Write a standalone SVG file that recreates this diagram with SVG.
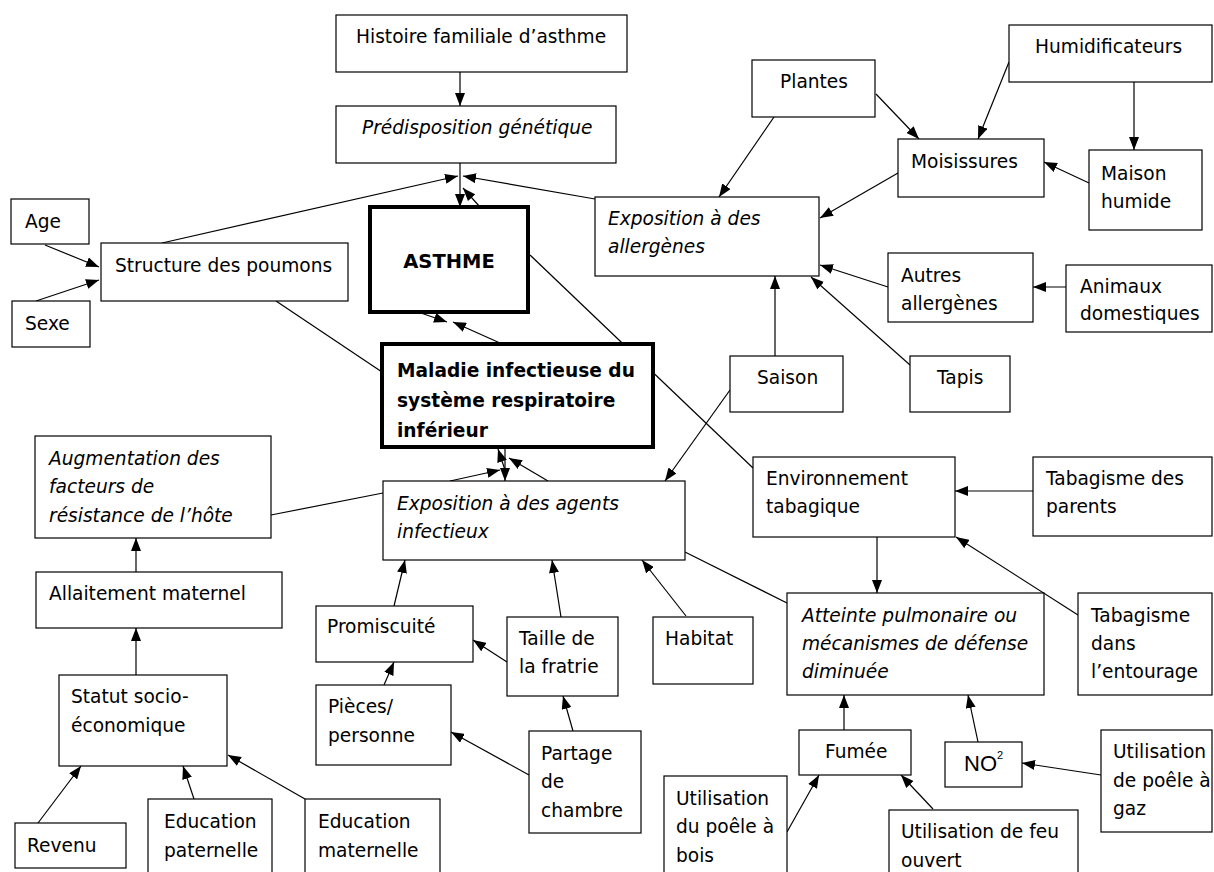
<svg xmlns="http://www.w3.org/2000/svg" width="1214" height="872" viewBox="0 0 1214 872">
<style>
  .box{fill:#fff;stroke:#000;stroke-width:1.2}
  .bold{fill:#fff;stroke:#000;stroke-width:4}
  text{font-family:"DejaVu Sans",sans-serif;font-size:18.6px;fill:#000}
  .it{font-style:italic}
  .b{font-weight:bold}
  .c line{stroke:#000;stroke-width:1.2;fill:none}
  .a{marker-end:url(#ah)}
</style>
<defs>
  <marker id="ah" markerUnits="userSpaceOnUse" markerWidth="13" markerHeight="10" refX="13" refY="5" orient="auto">
    <path d="M0,0 L13,5 L0,10 z" fill="#000"/>
  </marker>
</defs>
<rect width="1214" height="872" fill="#fff"/>

<g class="c" id="connectors">
  <line class="a" x1="460" y1="72" x2="460" y2="106"/>
  <line class="a" x1="460" y1="163" x2="460" y2="207"/>
  <line class="a" x1="162" y1="243" x2="458" y2="176"/>
  <line class="a" x1="595" y1="199" x2="463" y2="176"/>
  <line class="a" x1="480" y1="207" x2="463" y2="188"/>
  <line class="a" x1="45" y1="245" x2="99" y2="267"/>
  <line class="a" x1="36" y1="301" x2="99" y2="280"/>
  <line x1="530" y1="255" x2="753" y2="468"/>
  <line x1="276" y1="301" x2="382" y2="372"/>
  <line class="a" x1="418" y1="312" x2="447" y2="322"/>
  <line class="a" x1="500" y1="343" x2="453" y2="322"/>
  <line class="a" x1="450" y1="481" x2="500" y2="470"/>
  <line class="a" x1="548" y1="481" x2="509" y2="458"/>
  <line class="a" x1="505" y1="449" x2="505" y2="481"/>
  <line class="a" x1="505" y1="470" x2="498" y2="449"/>
  <line class="a" x1="774" y1="117" x2="719" y2="197"/>
  <line class="a" x1="876" y1="94" x2="919" y2="139"/>
  <line class="a" x1="1009" y1="62" x2="978" y2="139"/>
  <line class="a" x1="1134" y1="82" x2="1134" y2="150"/>
  <line class="a" x1="1089" y1="183" x2="1044" y2="162"/>
  <line class="a" x1="898" y1="173" x2="820" y2="218"/>
  <line class="a" x1="888" y1="287" x2="820" y2="265"/>
  <line class="a" x1="1066" y1="287" x2="1033" y2="287"/>
  <line class="a" x1="910" y1="365" x2="811" y2="277"/>
  <line class="a" x1="775" y1="356" x2="775" y2="276"/>
  <line class="a" x1="730" y1="390" x2="665" y2="481"/>
  <line class="a" x1="1033" y1="491" x2="955" y2="491"/>
  <line class="a" x1="877" y1="537" x2="877" y2="593"/>
  <line class="a" x1="1078" y1="615" x2="956" y2="537"/>
  <line x1="685" y1="552" x2="787" y2="603"/>
  <line x1="271" y1="515" x2="383" y2="493"/>
  <line class="a" x1="136" y1="572" x2="136" y2="538"/>
  <line class="a" x1="136" y1="675" x2="136" y2="628"/>
  <line class="a" x1="38" y1="823" x2="81" y2="766"/>
  <line class="a" x1="194" y1="799" x2="183" y2="766"/>
  <line class="a" x1="305" y1="799" x2="228" y2="755"/>
  <line class="a" x1="394" y1="606" x2="405" y2="560"/>
  <line class="a" x1="561" y1="617" x2="552" y2="560"/>
  <line class="a" x1="507" y1="662" x2="473" y2="640"/>
  <line class="a" x1="384" y1="685" x2="394" y2="662"/>
  <line class="a" x1="573" y1="731" x2="563" y2="696"/>
  <line class="a" x1="529" y1="775" x2="451" y2="732"/>
  <line class="a" x1="686" y1="616" x2="642" y2="560"/>
  <line class="a" x1="844" y1="730" x2="844" y2="695"/>
  <line class="a" x1="978" y1="742" x2="968" y2="695"/>
  <line class="a" x1="1101" y1="775" x2="1022" y2="763"/>
  <line class="a" x1="787" y1="832" x2="819" y2="775"/>
  <line class="a" x1="933" y1="809" x2="901" y2="775"/>
</g>

<g id="histoire"><rect class="box" x="336" y="15" width="291" height="57"/><text x="356" y="43">Histoire familiale d’asthme</text></g>
<g id="predisposition"><rect class="box" x="336" y="106" width="280" height="57"/><text class="it" x="362" y="134">Prédisposition génétique</text></g>
<g id="age"><rect class="box" x="11" y="199" width="78" height="45"/><text x="25" y="228">Age</text></g>
<g id="structure"><rect class="box" x="101" y="243" width="247" height="58"/><text x="115" y="272">Structure des poumons</text></g>
<g id="sexe"><rect class="box" x="12" y="301" width="78" height="46"/><text x="25" y="330">Sexe</text></g>
<g id="asthme"><rect class="bold" x="370" y="207" width="158" height="105"/><text class="b" x="449" y="268" text-anchor="middle" style="font-size:19.5px">ASTHME</text></g>
<g id="plantes"><rect class="box" x="752" y="60" width="123" height="57"/><text x="780" y="88">Plantes</text></g>
<g id="humidificateurs"><rect class="box" x="1009" y="25" width="203" height="57"/><text x="1035" y="53">Humidificateurs</text></g>
<g id="moisissures"><rect class="box" x="898" y="139" width="146" height="58"/><text x="911" y="168">Moisissures</text></g>
<g id="maison"><rect class="box" x="1089" y="150" width="113" height="80"/><text x="1101" y="180">Maison</text><text x="1101" y="208">humide</text></g>
<g id="expo-allergenes"><rect class="box" x="595" y="197" width="224" height="79"/><text class="it" x="608" y="225">Exposition à des</text><text class="it" x="608" y="253">allergènes</text></g>
<g id="autres"><rect class="box" x="888" y="253" width="145" height="69"/><text x="901" y="282">Autres</text><text x="901" y="310">allergènes</text></g>
<g id="animaux"><rect class="box" x="1066" y="265" width="146" height="67"/><text x="1080" y="293">Animaux</text><text x="1080" y="320">domestiques</text></g>
<g id="saison"><rect class="box" x="730" y="356" width="113" height="56"/><text x="757" y="384">Saison</text></g>
<g id="tapis"><rect class="box" x="910" y="356" width="100" height="56"/><text x="937" y="384">Tapis</text></g>
<g id="maladie"><rect class="bold" x="382" y="344" width="271" height="103"/><text class="b" x="397" y="377">Maladie infectieuse du</text><text class="b" x="397" y="407">système respiratoire</text><text class="b" x="397" y="437">inférieur</text></g>
<g id="augmentation"><rect class="box" x="35" y="436" width="236" height="102"/><text class="it" x="49" y="465">Augmentation des</text><text class="it" x="49" y="493">facteurs de</text><text class="it" x="49" y="522">résistance de l’hôte</text></g>
<g id="expo-agents"><rect class="box" x="383" y="481" width="302" height="79"/><text class="it" x="397" y="510">Exposition à des agents</text><text class="it" x="397" y="538">infectieux</text></g>
<g id="env-tabagique"><rect class="box" x="753" y="457" width="202" height="80"/><text x="766" y="485">Environnement</text><text x="766" y="513">tabagique</text></g>
<g id="tab-parents"><rect class="box" x="1033" y="457" width="179" height="79"/><text x="1046" y="485">Tabagisme des</text><text x="1046" y="513">parents</text></g>
<g id="allaitement"><rect class="box" x="36" y="572" width="246" height="56"/><text x="49" y="600">Allaitement maternel</text></g>
<g id="promiscuite"><rect class="box" x="316" y="606" width="157" height="56"/><text x="327" y="633">Promiscuité</text></g>
<g id="taille"><rect class="box" x="507" y="617" width="111" height="79"/><text x="519" y="645">Taille de</text><text x="519" y="673">la fratrie</text></g>
<g id="habitat"><rect class="box" x="653" y="617" width="100" height="67"/><text x="665" y="645">Habitat</text></g>
<g id="atteinte"><rect class="box" x="787" y="593" width="257" height="102"/><text class="it" x="802" y="622">Atteinte pulmonaire ou</text><text class="it" x="802" y="650">mécanismes de défense</text><text class="it" x="802" y="678">diminuée</text></g>
<g id="tab-entourage"><rect class="box" x="1078" y="593" width="134" height="102"/><text x="1091" y="622">Tabagisme</text><text x="1091" y="650">dans</text><text x="1091" y="678">l’entourage</text></g>
<g id="statut"><rect class="box" x="59" y="675" width="168" height="91"/><text x="71" y="703">Statut socio-</text><text x="71" y="732">économique</text></g>
<g id="pieces"><rect class="box" x="316" y="685" width="135" height="80"/><text x="328" y="713">Pièces/</text><text x="328" y="742">personne</text></g>
<g id="partage"><rect class="box" x="529" y="731" width="112" height="102"/><text x="541" y="760">Partage</text><text x="541" y="788">de</text><text x="541" y="817">chambre</text></g>
<g id="fumee"><rect class="box" x="799" y="730" width="112" height="45"/><text x="825" y="758">Fumée</text></g>
<g id="no2"><rect class="box" x="945" y="742" width="77" height="45"/><text x="964" y="771" style="font-family:'Liberation Sans',sans-serif;font-size:22px">NO<tspan style="font-size:11px" dy="-12">2</tspan></text></g>
<g id="gaz"><rect class="box" x="1101" y="730" width="111" height="102"/><text x="1113" y="758">Utilisation</text><text x="1113" y="787">de poêle à</text><text x="1113" y="815">gaz</text></g>
<g id="bois"><rect class="box" x="664" y="776" width="123" height="110"/><text x="676" y="805">Utilisation</text><text x="676" y="833">du poêle à</text><text x="676" y="862">bois</text></g>
<g id="feu"><rect class="box" x="889" y="810" width="189" height="80"/><text x="901" y="838">Utilisation de feu</text><text x="901" y="867">ouvert</text></g>
<g id="revenu"><rect class="box" x="15" y="823" width="111" height="45"/><text x="27" y="852">Revenu</text></g>
<g id="ed-pat"><rect class="box" x="148" y="799" width="124" height="90"/><text x="164" y="828">Education</text><text x="164" y="857">paternelle</text></g>
<g id="ed-mat"><rect class="box" x="305" y="799" width="135" height="90"/><text x="318" y="828">Education</text><text x="318" y="857">maternelle</text></g>
</svg>
